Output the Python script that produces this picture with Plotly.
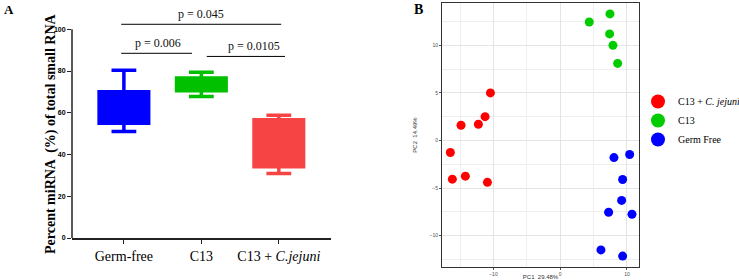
import plotly.graph_objects as go

# ---------------- Panel A data ----------------
groups = ["Germ-free", "C13", "C13 + <i>C.jejuni</i>"]
q1 = [55.0, 70.5, 34.1]
q3 = [70.1, 76.7, 56.7]
median = [62.0, 73.0, 45.0]
lower = [51.0, 67.8, 30.9]
upper = [80.4, 79.4, 58.8]
box_colors = ["#0000FF", "#00C000", "#F64444"]
yticksA = [0, 20, 40, 60, 80, 100]
# comparisons: (group i, group j, bracket height, label)
comparisons = [(0, 2, 102.4, "p = 0.045"), (0, 1, 88.5, "p = 0.006"), (1, 2, 87.0, "p = 0.0105")]

# ---------------- Panel B data ----------------
red_x = [-14.85, -12.25, -11.25, -10.45, -16.45, -16.15, -14.2, -10.9]
red_y = [1.6, 1.7, 2.5, 5.0, -1.26, -4.07, -3.75, -4.4]
green_x = [4.35, 7.45, 7.4, 7.9, 8.6]
green_y = [12.45, 13.3, 11.2, 10.0, 8.1]
blue_x = [8.05, 10.4, 9.35, 9.2, 7.25, 10.75, 6.1, 9.35]
blue_y = [-1.8, -1.47, -4.1, -6.3, -7.55, -7.75, -11.5, -12.15]
pca_names = ["C13 + <i>C. jejuni</i>", "C13", "Germ Free"]
pca_colors = ["#FF0000", "#00CC00", "#0000FF"]

W, H = 739, 280
# layout geometry
xdomA = [72 / W, 330.7 / W]
ydomA = [(H - 238) / H, (H - 29.3) / H]
xrA = [-0.67, 2.67]
yrA = [0, 100]
xdomB = [442 / W, 639 / W]
ydomB = [(H - 267) / H, (H - 3) / H]
xrB = [-17.7, 11.8]
yrB = [-13.3, 14.45]


def pxA(v):
    return xdomA[0] + (v - xrA[0]) / (xrA[1] - xrA[0]) * (xdomA[1] - xdomA[0])


def pyA(v):
    return ydomA[0] + (v - yrA[0]) / (yrA[1] - yrA[0]) * (ydomA[1] - ydomA[0])


fig = go.Figure()
for i, g in enumerate(groups):
    fig.add_trace(go.Box(
        x=[i], q1=[q1[i]], q3=[q3[i]], median=[median[i]],
        lowerfence=[lower[i]], upperfence=[upper[i]],
        width=0.64, whiskerwidth=0.5, fillcolor=box_colors[i],
        line=dict(color=box_colors[i], width=3.5), boxpoints=False,
        showlegend=False, xaxis="x", yaxis="y", hoverinfo="skip"))

# PCA points
for xs, ys, c in [(red_x, red_y, pca_colors[0]), (green_x, green_y, pca_colors[1]), (blue_x, blue_y, pca_colors[2])]:
    fig.add_trace(go.Scatter(x=xs, y=ys, mode="markers", xaxis="x2", yaxis="y2",
                             marker=dict(size=9, color=c), showlegend=False))
for n, c in zip(pca_names, pca_colors):
    fig.add_trace(go.Scatter(x=[None], y=[None], mode="markers", xaxis="x2", yaxis="y2",
                             marker=dict(size=14, color=c), name=n, showlegend=True))

shapes = []
annotations = []
# y axis line of panel A from 0 to 100
shapes.append(dict(type="line", xref="paper", yref="paper", x0=xdomA[0], x1=xdomA[0],
                   y0=pyA(0), y1=pyA(100), line=dict(color="#222222", width=1.5)))
# brackets (x extents in category units)
spans = {(0, 2): (-0.035, 2.03), (0, 1): (-0.035, 0.88), (1, 2): (1.07, 2.08)}
text_x = {(0, 2): 1.0, (0, 1): 0.44, (1, 2): 2.04}
for i, j, h, lab in comparisons:
    a, b = spans[(i, j)]
    shapes.append(dict(type="line", xref="paper", yref="paper", x0=pxA(a), x1=pxA(b),
                       y0=pyA(h), y1=pyA(h), line=dict(color="black", width=1)))
    annotations.append(dict(x=pxA(text_x[(i, j)]), y=pyA(h), xref="paper", yref="paper",
                            text=lab, showarrow=False, yanchor="bottom",
                            xanchor="center" if (i, j) != (1, 2) else "right",
                            yshift=1, font=dict(family="Liberation Serif", size=12, color="#111")))

annotations.append(dict(x=41 / W, y=(H - 134) / H, xref="paper", yref="paper", textangle=-90,
                        text="Percent miRNA  (%) of total small RNA", showarrow=False,
                        font=dict(family="Liberation Serif", size=14, color="black", weight="bold")))
annotations.append(dict(x=2 / W, y=1.0, xref="paper", yref="paper", text="A", showarrow=False,
                        xanchor="left", yanchor="top",
                        font=dict(family="Liberation Serif", size=13, color="black", weight="bold")))
annotations.append(dict(x=412 / W, y=1.0, xref="paper", yref="paper", text="B", showarrow=False,
                        xanchor="left", yanchor="top",
                        font=dict(family="Liberation Serif", size=14, color="black", weight="bold")))

fig.update_layout(
    width=W, height=H, margin=dict(l=0, r=0, t=0, b=0, autoexpand=False),
    paper_bgcolor="white", plot_bgcolor="white",
    xaxis=dict(domain=xdomA, range=xrA, tickvals=[0, 1, 2], ticktext=groups,
               showline=True, linecolor="#222222", linewidth=1.5, ticks="outside", ticklen=4,
               tickcolor="#222222", showgrid=False, zeroline=False,
               tickfont=dict(family="Liberation Serif", size=14, color="black")),
    yaxis=dict(domain=ydomA, range=yrA, tickvals=yticksA, showline=False, ticks="outside",
               ticklen=4, tickcolor="#222222", showgrid=False, zeroline=False,
               tickfont=dict(family="Arial", size=7, color="black", weight="bold"), anchor="x"),
    xaxis2=dict(domain=xdomB, range=xrB, tickvals=[-10, 0, 10], showgrid=True, gridcolor="#E4E4E4",
                gridwidth=1.2, minor=dict(showgrid=True, dtick=5, tick0=0, gridcolor="#EFEFEF", gridwidth=0.8),
                zeroline=False, showline=True, mirror=True, linecolor="#333333", linewidth=1,
                ticks="outside", ticklen=2, tickcolor="#555", anchor="y2",
                tickfont=dict(family="Arial", size=5, color="#4D4D4D"),
                title=dict(text="PC1  29.48%", font=dict(family="Arial", size=6, color="#333"), standoff=2)),
    yaxis2=dict(domain=ydomB, range=yrB, tickvals=[-10, -5, 0, 5, 10], showgrid=True, gridcolor="#E4E4E4",
                gridwidth=1.2, minor=dict(showgrid=True, dtick=2.5, tick0=0, gridcolor="#EFEFEF", gridwidth=0.8),
                zeroline=False, showline=True, mirror=True, linecolor="#333333", linewidth=1,
                ticks="outside", ticklen=2, tickcolor="#555", anchor="x2",
                tickfont=dict(family="Arial", size=5, color="#4D4D4D"),
                title=dict(text="PC2  14.49%", font=dict(family="Arial", size=6, color="#333"), standoff=11)),
    legend=dict(x=638 / W, y=(H - 87) / H, xanchor="left", yanchor="top",
                font=dict(family="Liberation Serif", size=10, color="black"),
                bgcolor="rgba(0,0,0,0)", tracegroupgap=0, itemsizing="trace"),
    shapes=shapes, annotations=annotations,
)

fig.write_html("out.html")
